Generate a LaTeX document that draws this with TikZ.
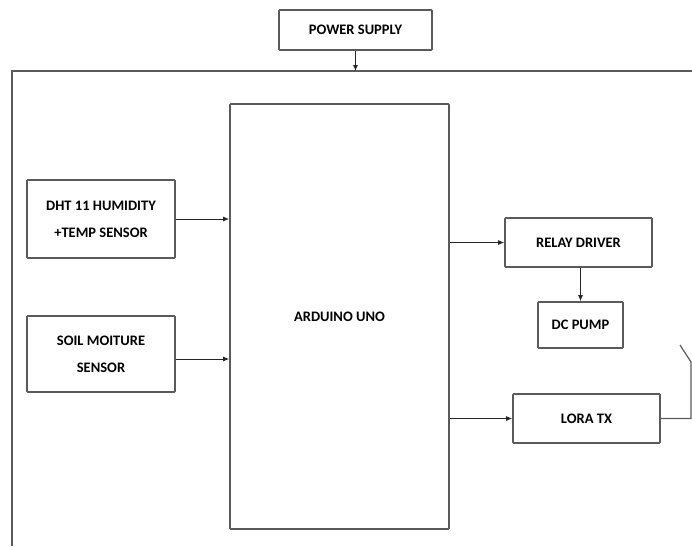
\documentclass[tikz,border=0pt]{standalone}
\usepackage{fontspec}
\setmainfont{Carlito}
\usetikzlibrary{calc,arrows.meta}
\definecolor{BoxGray}{RGB}{90,90,90}

\begin{document}
\begin{tikzpicture}[x=1pt,y=-1pt,>={Latex[length=6pt,width=5pt]},
	block/.style={draw=BoxGray, line width=1.6pt, rounded corners=0.8pt, align=center,
		font=\fontsize{14.5}{27}\selectfont\bfseries, inner sep=0pt},
	link/.style={->, line width=1pt, black!85}]
				\useasboundingbox (0,0) rectangle (692,546);
				% outer frame
				\coordinate (fTR) at (692,71);
				\coordinate (fTL) at (12,71);
				\coordinate (fBL) at (12,546);
				\draw[BoxGray, line width=1.6pt] (fTR) -- (fTL) -- (fBL);
				\node [block, minimum width=153pt, minimum height=40pt] (psu) at (355.5,30) {POWER SUPPLY};
				\coordinate (fIn) at (psu.south |- fTL);
				\draw[link] (psu.south) -- (fIn);
				\node [block, minimum width=219pt, minimum height=425pt] (uno) at (339.5,316.5) {ARDUINO UNO};
				\node [block, minimum width=148pt, minimum height=78pt] (dht) at (101,219) {DHT 11 HUMIDITY\\+TEMP SENSOR};
				\node [block, minimum width=148pt, minimum height=76pt] (soil) at (101,354) {SOIL MOITURE\\SENSOR};
				\draw[link] (dht.east) -- (dht.east -| uno.west);
				\draw[link] ([yshift=-5pt]soil.east) -- ([yshift=-5pt]soil.east -| uno.west);
				\node [block, minimum width=147pt, minimum height=49pt] (relay) at (578.5,242.5) {RELAY DRIVER};
				\node [block, minimum width=85pt, minimum height=46pt] (pump) at (580.5,325) {DC PUMP};
				\node [block, minimum width=147pt, minimum height=49pt] (lora) at (586.5,418.5) {LORA TX};
				\draw[link] (relay.west -| uno.east) -- (relay.west);
				\draw[link] (relay.south -| pump.north) -- (pump.north);
				\draw[link] (lora.west -| uno.east) -- (lora.west);
				% antenna
				\coordinate (aBase) at (691,418.5);
				\coordinate (aTop) at (691,362);
				\coordinate (aTip) at (680,345);
				\draw[BoxGray, line width=1.2pt] (lora.east) -- (aBase) -- (aTop) -- (aTip);
			\end{tikzpicture}
\end{document}
